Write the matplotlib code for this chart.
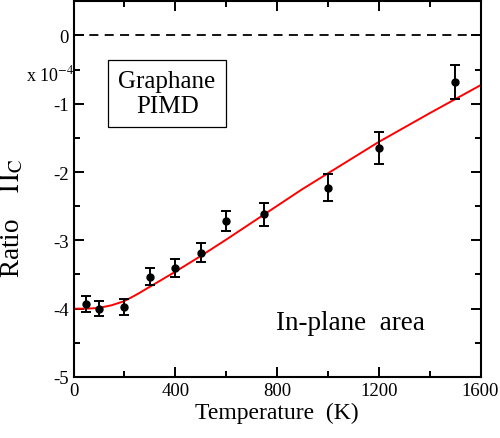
import matplotlib.pyplot as plt
from matplotlib.ticker import MultipleLocator

plt.rcParams['font.family'] = ['Liberation Serif', 'DejaVu Serif']
plt.rcParams['mathtext.fontset'] = 'stix'

# simulation points (ratio in units of 1e-4)
temp = [50, 100, 200, 300, 400, 500, 600, 750, 1000, 1200, 1500]
ratio = [-3.93, -4.00, -3.98, -3.53, -3.41, -3.18, -2.72, -2.62, -2.23, -1.65, -0.68]
err = [0.12, 0.11, 0.12, 0.12, 0.13, 0.14, 0.15, 0.165, 0.195, 0.23, 0.25]

# model curve
temp_fit = [0, 50, 100, 150, 200, 250, 300, 400, 500, 600, 750, 900, 1000, 1200, 1400, 1600]
ratio_fit = [-4.00, -4.00, -3.99, -3.95, -3.89, -3.79, -3.68, -3.46, -3.23, -2.99,
             -2.62, -2.25, -2.02, -1.56, -1.14, -0.73]

fig = plt.figure(figsize=(5, 4.39), dpi=100)
ax = fig.add_axes([0.147, 0.139, 0.814, 0.856])

ax.axhline(0, color='black', linestyle=(0, (5, 3.5)), lw=1.3)
ax.plot(temp_fit, ratio_fit, color='red', lw=1.4)
ax.errorbar(temp, ratio, yerr=err, fmt='o', color='black', ms=5,
            elinewidth=1.4, capsize=3.5, capthick=1.4)

ax.set_xlim(0, 1600)
ax.set_ylim(-5, 0.5)
ax.xaxis.set_minor_locator(MultipleLocator(200))
ax.yaxis.set_minor_locator(MultipleLocator(0.5))
ax.set_xticks([0, 400, 800, 1200, 1600])
ax.set_yticks([-5, -4, -3, -2, -1, 0])
ax.set_yticklabels(['-5', '-4', '-3', '-2', '-1', '0'])
ax.tick_params(which='both', direction='in', top=True, right=True,
               width=1.4, labelsize=13.5)
ax.tick_params(which='major', length=7)
ax.tick_params(which='minor', length=4.5)
for s in ax.spines.values():
    s.set_linewidth(1.5)

ax.set_xlabel('Temperature  (K)', fontsize=17, labelpad=2)
ax.set_ylabel(r'Ratio    $\Pi_{\mathrm{C}}$', fontsize=19.5)
ax.yaxis.set_label_coords(-0.118, 0.425)

fig.text(0.052, 0.815, r'x 10$^{-4}$', fontsize=13)
ax.text(368, -0.85, 'Graphane\nPIMD', fontsize=18, ha='center', va='center',
        linespacing=1.15,
        bbox=dict(boxstyle='square,pad=0.4', fc='white', ec='black', lw=0.9))
ax.text(1089, -4.2, 'In-plane  area', fontsize=19.5, ha='center', va='center')

fig.savefig('out.png', dpi=100)
